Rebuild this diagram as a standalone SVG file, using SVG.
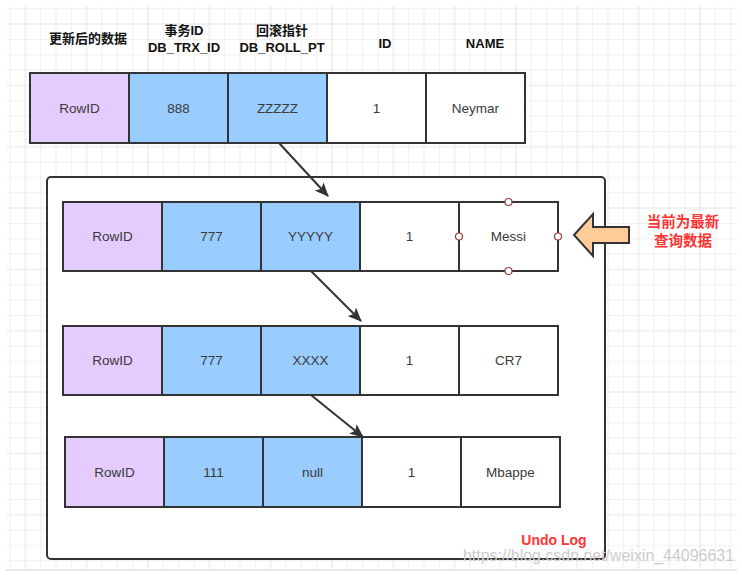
<svg xmlns="http://www.w3.org/2000/svg" width="742" height="575" viewBox="0 0 742 575">
  <defs>
    <pattern id="grid" patternUnits="userSpaceOnUse" x="9.5" y="8.3" width="61.33" height="61.33">
      <rect x="0" y="0" width="61.33" height="61.33" fill="#ffffff"/>
      <path d="M0.5 0V61.33M31.17 0V61.33M46.5 0V61.33M0 0.5H61.33M0 31.17H61.33M0 46.5H61.33" stroke="#f0f0f0" stroke-width="1" fill="none"/>
      <path d="M15.83 0V61.33M0 15.83H61.33" stroke="#e4e4e4" stroke-width="1" fill="none"/>
    </pattern>
    <marker id="arr" viewBox="0 0 14 12" refX="13" refY="6" markerWidth="14" markerHeight="12" markerUnits="userSpaceOnUse" orient="auto">
      <path d="M0 0L14 6L0 12L3 6Z" fill="#333333"/>
    </marker>
    <style>
      .cell { stroke: #333333; stroke-width: 2; }
      .p { fill: #E5CCFF; }
      .b { fill: #99CCFF; }
      .w { fill: #FFFFFF; }
      .t { font-family: "Liberation Sans", "Noto Sans", sans-serif; font-size: 13.5px; fill: #3a3a3a; text-anchor: middle; }
      .h { font-family: "Liberation Sans", "Noto Sans CJK SC", sans-serif; font-size: 13px; font-weight: bold; fill: #111111; text-anchor: middle; }
      .red { font-family: "Liberation Sans", "Noto Sans CJK SC", sans-serif; font-weight: bold; fill: #FF3333; text-anchor: middle; }
      .conn { stroke: #333333; stroke-width: 2; fill: none; marker-end: url(#arr); }
      .handle { fill: #ffffff; stroke: #A33A3A; stroke-width: 1.2; }
    </style>
  </defs>

  <rect x="0" y="0" width="742" height="575" fill="#ffffff"/>
  <rect x="6" y="6" width="731" height="564" fill="url(#grid)"/>
  <line x1="6" y1="570" x2="737" y2="570" stroke="#e0e0e0" stroke-width="1.5"/>

  <g id="headers">
    <text class="h" x="88" y="43">更新后的数据</text>
    <text class="h" x="184" y="35">事务ID</text>
    <text class="h" x="184" y="52">DB_TRX_ID</text>
    <text class="h" x="282" y="35">回滚指针</text>
    <text class="h" x="282" y="52">DB_ROLL_PT</text>
    <text class="h" x="385" y="48">ID</text>
    <text class="h" x="485" y="48">NAME</text>
  </g>

  <g id="container">
    <rect x="47" y="177" width="558" height="382" rx="4" ry="4" fill="#ffffff" stroke="#333333" stroke-width="2"/>
    <text class="red" x="554" y="545" font-size="14">Undo Log</text>
  </g>

  <g id="row-current">
    <rect class="cell p" x="30" y="73" width="99" height="70"/>
    <rect class="cell b" x="129" y="73" width="99" height="70"/>
    <rect class="cell b" x="228" y="73" width="99" height="70"/>
    <rect class="cell w" x="327" y="73" width="99" height="70"/>
    <rect class="cell w" x="426" y="73" width="99" height="70"/>
    <text class="t" x="79.5" y="113">RowID</text>
    <text class="t" x="178.5" y="113">888</text>
    <text class="t" x="277.5" y="113">ZZZZZ</text>
    <text class="t" x="376.5" y="113">1</text>
    <text class="t" x="475.5" y="113">Neymar</text>
  </g>

  <g id="row-messi">
    <rect class="cell p" x="63" y="202" width="99" height="69"/>
    <rect class="cell b" x="162" y="202" width="99" height="69"/>
    <rect class="cell b" x="261" y="202" width="99" height="69"/>
    <rect class="cell w" x="360" y="202" width="99" height="69"/>
    <rect class="cell w" x="459" y="202" width="99" height="69"/>
    <text class="t" x="112.5" y="241">RowID</text>
    <text class="t" x="211.5" y="241">777</text>
    <text class="t" x="310.5" y="241">YYYYY</text>
    <text class="t" x="409.5" y="241">1</text>
    <text class="t" x="508.5" y="241">Messi</text>
    <circle class="handle" cx="508.5" cy="202" r="3.5"/>
    <circle class="handle" cx="508.5" cy="271" r="3.5"/>
    <circle class="handle" cx="459" cy="236.5" r="3.5"/>
    <circle class="handle" cx="558" cy="236.5" r="3.5"/>
  </g>

  <g id="row-cr7">
    <rect class="cell p" x="63" y="326" width="99" height="69"/>
    <rect class="cell b" x="162" y="326" width="99" height="69"/>
    <rect class="cell b" x="261" y="326" width="99" height="69"/>
    <rect class="cell w" x="360" y="326" width="99" height="69"/>
    <rect class="cell w" x="459" y="326" width="99" height="69"/>
    <text class="t" x="112.5" y="365">RowID</text>
    <text class="t" x="211.5" y="365">777</text>
    <text class="t" x="310.5" y="365">XXXX</text>
    <text class="t" x="409.5" y="365">1</text>
    <text class="t" x="508.5" y="365">CR7</text>
  </g>

  <g id="row-mbappe">
    <rect class="cell p" x="65" y="437" width="99" height="70"/>
    <rect class="cell b" x="164" y="437" width="99" height="70"/>
    <rect class="cell b" x="263" y="437" width="99" height="70"/>
    <rect class="cell w" x="362" y="437" width="99" height="70"/>
    <rect class="cell w" x="461" y="437" width="99" height="70"/>
    <text class="t" x="114.5" y="477">RowID</text>
    <text class="t" x="213.5" y="477">111</text>
    <text class="t" x="312.5" y="477">null</text>
    <text class="t" x="411.5" y="477">1</text>
    <text class="t" x="510.5" y="477">Mbappe</text>
  </g>

  <g id="connectors">
    <line class="conn" x1="279" y1="143" x2="328" y2="196"/>
    <line class="conn" x1="311" y1="271" x2="361" y2="321"/>
    <line class="conn" x1="311" y1="395" x2="363" y2="437"/>
  </g>

  <g id="latest-pointer">
    <path d="M574 235L593 214V227H629V243H593V256Z" fill="#FFCC99" stroke="#333333" stroke-width="2" stroke-linejoin="miter"/>
    <text class="red" x="683" y="227" font-size="14.5">当前为最新</text>
    <text class="red" x="683" y="246" font-size="14.5">查询数据</text>
  </g>

  <text x="463" y="561" font-family="Liberation Sans, sans-serif" font-size="16" fill="#cccccc" textLength="271" lengthAdjust="spacingAndGlyphs">https://blog.csdn.net/weixin_44096631</text>
</svg>
